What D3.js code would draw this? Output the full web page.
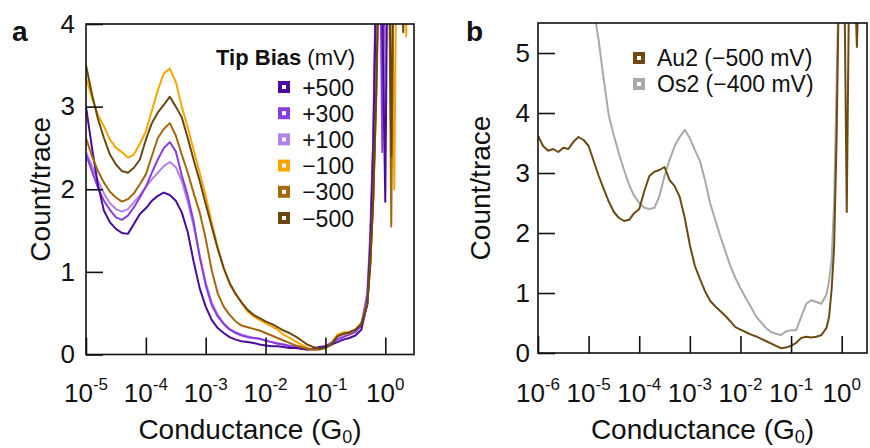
<!DOCTYPE html>
<html><head><meta charset="utf-8">
<script src="https://cdn.jsdelivr.net/npm/d3@7"></script>
<style>
body{margin:0;background:#fff}
svg{display:block}
text{font-family:"Liberation Sans", Arial, Helvetica, sans-serif; fill:#111}
</style>
</head><body>
<svg id="c" width="870" height="448"></svg>
<script>
// ---------- DATA ----------
// Panel a: log10(G/G0) grid
const logG_a = [-5.0,-4.9,-4.8,-4.7,-4.6,-4.5,-4.4,-4.3,-4.2,-4.1,-4.0,-3.9,-3.8,-3.7,-3.6,-3.5,-3.4,-3.3,-3.2,-3.1,
  -3.0,-2.9,-2.8,-2.7,-2.6,-2.5,-2.4,-2.3,-2.2,-2.1,-2.0,-1.9,-1.8,-1.7,-1.6,-1.5,-1.4,-1.3,-1.2,-1.1,
  -1.0,-0.9,-0.8,-0.7,-0.6,-0.5,-0.4,-0.3,-0.25,-0.2,-0.15,-0.1,-0.05,0,0.05,0.1,0.15,0.2,0.25,0.3,0.35,0.4,0.45,0.48];
const biasLabels = ["+500","+300","+100","\u2212100","\u2212300","\u2212500"];
const bias_p500 = [3.0,2.5,2.05,1.74,1.6,1.52,1.47,1.46,1.58,1.7,1.77,1.86,1.92,1.96,1.93,1.86,1.72,1.48,1.12,0.8,
  0.58,0.42,0.32,0.26,0.21,0.18,0.16,0.15,0.14,0.12,0.11,0.1,0.1,0.09,0.08,0.08,0.07,0.06,0.07,0.09,
  0.1,0.12,0.15,0.18,0.2,0.23,0.3,0.62,1.3,2.5,4.6,6,4.2,1.85,6,6,6,6,6,6,6,6,6,6];
const bias_p300 = [2.42,2.22,2.02,1.86,1.75,1.66,1.63,1.68,1.78,1.9,2.03,2.2,2.36,2.5,2.57,2.46,2.17,1.92,1.6,1.18,
  0.84,0.6,0.46,0.37,0.3,0.26,0.23,0.21,0.2,0.19,0.17,0.15,0.13,0.12,0.1,0.09,0.07,0.06,0.06,0.07,
  0.1,0.14,0.18,0.21,0.24,0.27,0.35,0.7,1.4,2.6,4.8,6,2.45,6,6,6,6,6,6,6,6,6,6,6];
const bias_p100 = [2.45,2.28,2.1,1.95,1.83,1.76,1.73,1.76,1.84,1.93,2.03,2.12,2.2,2.28,2.33,2.27,2.1,1.85,1.55,1.2,
  0.87,0.63,0.48,0.38,0.31,0.27,0.24,0.22,0.2,0.19,0.17,0.15,0.14,0.12,0.11,0.09,0.08,0.07,0.06,0.07,
  0.1,0.14,0.19,0.22,0.25,0.28,0.36,0.75,1.5,2.7,5,6,6,2.9,6,6,6,6,6,6,6,6,6,6];
const bias_m100 = [3.35,3.1,2.9,2.76,2.6,2.5,2.45,2.38,2.42,2.55,2.7,2.95,3.2,3.4,3.46,3.3,3.0,2.75,2.47,2.2,
  1.92,1.6,1.3,1.04,0.87,0.74,0.62,0.52,0.46,0.42,0.38,0.34,0.3,0.24,0.2,0.16,0.12,0.08,0.06,0.06,
  0.09,0.14,0.24,0.27,0.27,0.3,0.38,0.65,1.1,1.9,3.1,4.8,6,6,6,6,2.0,6,6,6,3.85,6,6,6];
const bias_m300 = [2.62,2.4,2.22,2.08,1.97,1.9,1.85,1.88,1.95,2.06,2.18,2.4,2.62,2.73,2.8,2.65,2.42,2.2,1.95,1.72,
  1.4,1.02,0.74,0.58,0.48,0.4,0.35,0.33,0.31,0.29,0.26,0.23,0.2,0.17,0.14,0.11,0.09,0.07,0.06,0.06,
  0.08,0.13,0.22,0.25,0.26,0.3,0.38,0.62,1.1,1.9,3.2,5,6,6,6,1.55,6,6,6,6,6,6,6,6];
const bias_m500 = [3.5,3.15,2.85,2.62,2.42,2.3,2.22,2.2,2.26,2.36,2.6,2.8,2.93,3.02,3.12,3.0,2.87,2.62,2.35,2.1,
  1.82,1.55,1.28,1.05,0.86,0.73,0.63,0.54,0.48,0.44,0.4,0.37,0.33,0.29,0.26,0.22,0.17,0.12,0.09,0.07,
  0.08,0.12,0.22,0.25,0.27,0.3,0.36,0.6,1.1,1.9,3.2,5,6,6,6,2.4,6,6,6,3.9,6,6,6,6];

// Panel b
const logG_b = [-6.0,-5.9,-5.8,-5.7,-5.6,-5.5,-5.4,-5.3,-5.2,-5.1,-5.0,-4.9,-4.8,-4.7,-4.6,-4.5,-4.4,-4.3,-4.2,-4.1,
  -4.0,-3.9,-3.8,-3.7,-3.6,-3.5,-3.4,-3.3,-3.2,-3.1,-3.0,-2.9,-2.8,-2.7,-2.6,-2.5,-2.4,-2.3,-2.2,-2.1,
  -2.0,-1.9,-1.8,-1.7,-1.6,-1.5,-1.4,-1.3,-1.2,-1.1,-1.0,-0.9,-0.8,-0.7,-0.6,-0.5,-0.4,-0.3,
  -0.25,-0.2,-0.15,-0.1,-0.05,0,0.05,0.1,0.15,0.2,0.25,0.3,0.35,0.4,0.45,0.5];
const seriesB = ["Au2 (\u2212500 mV)","Os2 (\u2212400 mV)"];
const au2 = [3.62,3.45,3.37,3.4,3.35,3.42,3.4,3.52,3.6,3.55,3.45,3.2,2.95,2.73,2.52,2.35,2.25,2.2,2.22,2.33,
  2.4,2.7,2.95,3.02,3.05,3.1,2.88,2.78,2.6,2.25,1.8,1.45,1.23,1.03,0.87,0.78,0.7,0.62,0.53,0.43,
  0.39,0.35,0.31,0.28,0.24,0.2,0.16,0.12,0.08,0.09,0.12,0.17,0.25,0.27,0.26,0.27,0.3,0.42,
  0.6,1.05,1.75,3.6,6.5,6.5,6.5,2.35,6.5,6.5,6.5,5.1,6.5,6.5,6.5,6.5];
const os2 = [null,null,null,null,null,null,null,null,null,null,6.4,5.75,5.2,4.55,3.95,3.62,3.32,3.05,2.8,2.62,
  2.5,2.42,2.4,2.42,2.62,2.95,3.22,3.45,3.6,3.72,3.58,3.38,3.2,2.88,2.5,2.22,1.95,1.7,1.45,1.25,
  1.08,0.92,0.78,0.62,0.52,0.42,0.35,0.32,0.3,0.36,0.38,0.38,0.6,0.82,0.88,0.85,0.82,0.98,
  1.2,1.55,2.5,4.5,6.5,6.5,6.5,6.5,6.5,6.5,6.5,6.5,6.5,6.5,6.5,6.5];

const ticksA_x = [-5,-4,-3,-2,-1,0];
const ticksA_y = [0,1,2,3,4];
const ticksB_x = [-6,-5,-4,-3,-2,-1,0];
const ticksB_y = [0,1,2,3,4,5];

// ---------- STYLE ----------
const colA = {"+500":"#4b0c9c","+300":"#8a3ce0","+100":"#b282ea","\u2212100":"#f8a500","\u2212300":"#a4680c","\u2212500":"#6a4712"};
const colB = ["#6d4a12","#a9a9a9"];
const drawOrderA = ["\u2212100","+100","+300","+500","\u2212300","\u2212500"];
const seriesA = {"+500":bias_p500,"+300":bias_p300,"+100":bias_p100,"\u2212100":bias_m100,"\u2212300":bias_m300,"\u2212500":bias_m500};

const svg = d3.select("#c");

function panel(opts){
  const g = svg.append("g");
  const x = d3.scaleLog().domain(opts.xdom).range([opts.left, opts.right]);
  const y = d3.scaleLinear().domain(opts.ydom).range([opts.bottom, opts.top]);
  const cid = "clip" + opts.id;
  svg.append("clipPath").attr("id", cid).append("rect")
    .attr("x", opts.left).attr("y", opts.top)
    .attr("width", opts.right-opts.left).attr("height", opts.bottom-opts.top);
  const lines = g.append("g").attr("clip-path", `url(#${cid})`);
  opts.series.forEach(s => {
    const pts = opts.grid.map((L,i)=>[L, s.values[i]]);
    const line = d3.line().defined(d=>d[1]!=null)
      .x(d=>x(Math.pow(10,d[0]))).y(d=>y(d[1]));
    lines.append("path").datum(pts).attr("d", line)
      .attr("fill","none").attr("stroke", s.color).attr("stroke-width",2)
      .attr("stroke-linejoin","round");
  });
  const ya = g.append("g").attr("transform",`translate(${opts.left},0)`)
    .call(d3.axisLeft(y).tickValues(opts.yticks).tickSize(-17).tickPadding(opts.ypad).tickFormat(d3.format("d")));
  ya.select(".domain").remove();
  ya.selectAll(".tick line").attr("stroke","#111").attr("stroke-width",1.6);
  ya.selectAll(".tick text").attr("font-size",26).attr("fill","#111")
    .style("font-family","'Liberation Sans', Arial, sans-serif");
  const xa = g.append("g").attr("transform",`translate(0,${opts.bottom})`)
    .call(d3.axisBottom(x).tickValues(opts.xticks.map(t=>Math.pow(10,t))).tickSize(-17).tickFormat(""));
  xa.select(".domain").remove();
  xa.selectAll(".tick line").attr("stroke","#111").attr("stroke-width",1.6);
  opts.xticks.forEach(t=>{
    const tx = g.append("text").attr("x", x(Math.pow(10,t))).attr("y", 402)
      .attr("text-anchor","middle").attr("font-size",26);
    tx.append("tspan").text("10");
    tx.append("tspan").attr("dy",-12).attr("font-size",17).text(t===0?"0":"-"+Math.abs(t));
  });
  g.append("rect").attr("x",opts.left).attr("y",opts.top)
    .attr("width",opts.right-opts.left).attr("height",opts.bottom-opts.top)
    .attr("fill","none").attr("stroke","#111").attr("stroke-width",1.6);
  const xt = g.append("text").attr("x",(opts.left+opts.right)/2).attr("y",439)
    .attr("text-anchor","middle").attr("font-size",28);
  xt.append("tspan").text("Conductance (G");
  xt.append("tspan").attr("font-size",18).attr("dy",4).text("0");
  xt.append("tspan").attr("dy",-4).text(")");
  g.append("text").attr("transform",`translate(${opts.ytx},${(opts.top+opts.bottom)/2}) rotate(-90)`)
    .attr("text-anchor","middle").attr("font-size",28).text("Count/trace");
  g.append("text").attr("x",opts.labx).attr("y",41).attr("font-size",28).attr("font-weight","bold").text(opts.label);
  return {g,x,y};
}

// Panel a
const pa = panel({id:"a", left:86, right:414, top:24, bottom:354.5,
  xdom:[1e-5, Math.pow(10,0.48)], ydom:[0,4], grid:logG_a,
  series: drawOrderA.map(k=>({values:seriesA[k], color:colA[k]})),
  xticks:ticksA_x, yticks:ticksA_y, ypad:11, ytx:50, labx:12, label:"a"});

const la = pa.g.append("g");
const lt = la.append("text").attr("x",355).attr("y",65).attr("text-anchor","end").attr("font-size",22);
lt.append("tspan").attr("font-weight","bold").text("Tip Bias");
lt.append("tspan").text(" (mV)");
biasLabels.forEach((k,i)=>{
  const cy = 87 + i*26.2;
  la.append("rect").attr("x",280).attr("y",cy-4).attr("width",8).attr("height",8)
    .attr("fill","#fff").attr("stroke",colA[k]).attr("stroke-width",4);
  la.append("text").attr("x",354).attr("y",cy+8.5).attr("text-anchor","end").attr("font-size",23).text(k);
});

// Panel b
const pb = panel({id:"b", left:538, right:867, top:23, bottom:353,
  xdom:[1e-6, Math.pow(10,0.5)], ydom:[0,5.5], grid:logG_b,
  series:[{values:os2,color:colB[1]},{values:au2,color:colB[0]}],
  xticks:ticksB_x, yticks:ticksB_y, ypad:8, ytx:490, labx:466, label:"b"});

const lb = pb.g.append("g");
seriesB.forEach((s,i)=>{
  const cy = 58 + i*26;
  lb.append("rect").attr("x",635).attr("y",cy-4).attr("width",8).attr("height",8)
    .attr("fill","#fff").attr("stroke",colB[i]).attr("stroke-width",4);
  lb.append("text").attr("x",657).attr("y",cy+8).attr("font-size",23).text(s);
});
</script>
</body></html>
